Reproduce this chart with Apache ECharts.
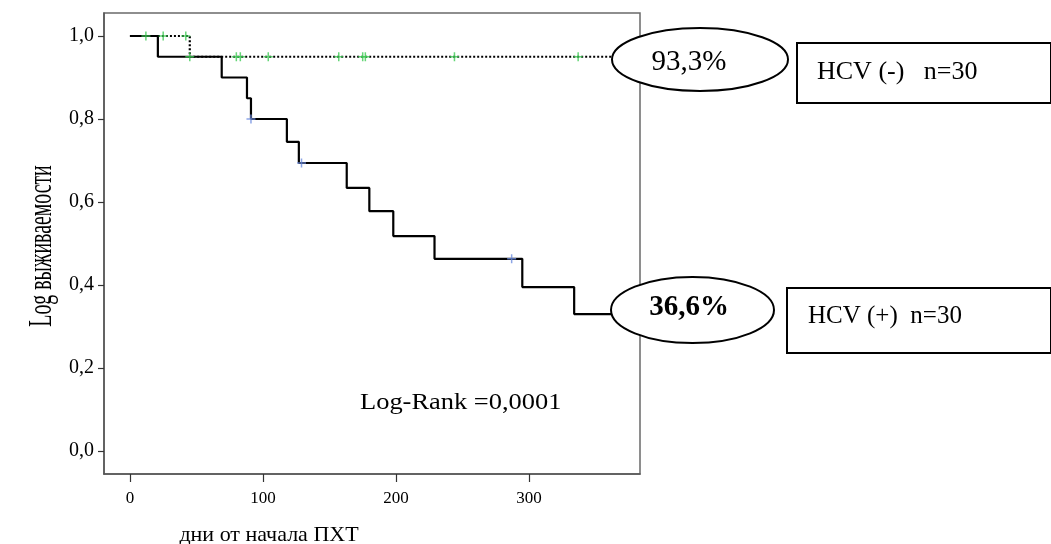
<!DOCTYPE html>
<html>
<head>
<meta charset="utf-8">
<script src="https://cdn.jsdelivr.net/npm/echarts@6/dist/echarts.min.js"></script>
<style>
html,body{margin:0;padding:0;background:#fff;}
#chart{width:1051px;height:544px;}
</style>
</head>
<body>
<div id="chart"></div>
<script>
// ---- data ----
const hcvPosCurve = [[0,1],[21,0.95],[69,0.90],[88,0.85],[91,0.80],[118,0.745],[127,0.694],[163,0.634],[180,0.578],[198,0.518],[229,0.463],[295,0.395],[334,0.330],[362,0.330]];
const hcvPosCensored = [[91,0.80],[129,0.694],[287,0.463]];
const hcvNegCurve = [[0,1],[45,0.95],[362,0.95]];
const hcvNegCensored = [[12,1],[25,1],[42,1],[45,0.95],[80,0.95],[83,0.95],[104,0.95],[157,0.95],[175,0.95],[177,0.95],[244,0.95],[337,0.95]];
const xTickValues = [0,100,200,300];
const yTickValues = [0,0.2,0.4,0.6,0.8,1.0];
const labelNeg = '93,3%';
const labelPos = '36,6%';
const boxNeg = 'HCV (-)   n=30';
const boxPos = 'HCV (+)  n=30';
const logRankText = 'Log-Rank =0,0001';
const yTitle = 'Log выживаемости';
const xTitle = 'дни от начала ПХТ';

const SERIF = "'Liberation Serif','Times New Roman','DejaVu Serif',serif";
const cross = 'path://M5,0h2v5h5v2h-5v5h-2v-5h-5v-2h5z';

const chart = echarts.init(document.getElementById('chart'), null, {renderer:'canvas'});
chart.setOption({
  backgroundColor:'#fff',
  animation:false,
  grid:{left:104, top:13, right:411, bottom:70, show:true, borderColor:'#6a6a6a', borderWidth:1.5, containLabel:false},
  xAxis:{
    type:'value', min:-19.5, max:383.5,
    axisLine:{show:true, onZero:false, lineStyle:{color:'#555', width:1.5}},
    axisTick:{show:true, length:8, customValues:xTickValues, lineStyle:{color:'#333', width:1.2}},
    axisLabel:{customValues:xTickValues, color:'#000', fontFamily:SERIF, fontSize:17, margin:16, formatter:v=>String(Math.round(v))},
    splitLine:{show:false}
  },
  yAxis:{
    type:'value', min:-0.0554, max:1.0554,
    axisLine:{show:true, onZero:false, lineStyle:{color:'#555', width:1.5}},
    axisTick:{show:true, length:6, customValues:yTickValues, lineStyle:{color:'#333', width:1.2}},
    axisLabel:{customValues:yTickValues, color:'#000', fontFamily:SERIF, fontSize:20, margin:10, formatter:v=>v.toFixed(1).replace('.',',')},
    splitLine:{show:false}
  },
  series:[
    {type:'line', name:'HCV (-)', data:hcvNegCurve, step:'end', symbol:'none', z:3,
     lineStyle:{color:'#000', width:2.2, type:[2,2]}},
    {type:'line', name:'HCV (+)', data:hcvPosCurve, step:'end', symbol:'none', z:4,
     lineStyle:{color:'#000', width:2.2}},
    {type:'scatter', data:hcvNegCensored, symbol:cross, symbolSize:9, z:5,
     itemStyle:{color:'#3fcc55'}},
    {type:'scatter', data:hcvPosCensored, symbol:cross, symbolSize:9, z:5,
     itemStyle:{color:'#6f8fe0'}}
  ],
  graphic:[
    {type:'ellipse', z:100, shape:{cx:700, cy:59.5, rx:88, ry:31.5}, style:{fill:'#fff', stroke:'#000', lineWidth:2}},
    {type:'text', z:101, x:689, y:62, style:{text:labelNeg, font:"29px "+SERIF, fill:'#000', align:'center', verticalAlign:'middle'}},
    {type:'ellipse', z:100, shape:{cx:692.5, cy:310, rx:81.5, ry:33}, style:{fill:'#fff', stroke:'#000', lineWidth:2}},
    {type:'text', z:101, x:689, y:308, style:{text:labelPos, font:"bold 29px "+SERIF, fill:'#000', align:'center', verticalAlign:'middle'}},
    {type:'rect', z:100, shape:{x:797, y:43, width:254, height:60}, style:{fill:'#fff', stroke:'#000', lineWidth:2}},
    {type:'text', z:101, x:817, y:72, style:{text:boxNeg, font:"26px "+SERIF, fill:'#000', align:'left', verticalAlign:'middle'}},
    {type:'rect', z:100, shape:{x:787, y:288, width:264, height:65}, style:{fill:'#fff', stroke:'#000', lineWidth:2}},
    {type:'text', z:101, x:808, y:316, style:{text:boxPos, font:"25px "+SERIF, fill:'#000', align:'left', verticalAlign:'middle'}},
    {type:'text', z:101, x:360, y:403, scaleX:1.15, style:{text:logRankText, font:"23px "+SERIF, fill:'#000', align:'left', verticalAlign:'middle'}},
    {type:'text', z:101, x:42, y:246, rotation:Math.PI/2, scaleX:0.6, style:{text:yTitle, font:"33px "+SERIF, fill:'#000', align:'center', verticalAlign:'middle'}},
    {type:'text', z:101, x:269, y:535, style:{text:xTitle, font:"22px "+SERIF, fill:'#000', align:'center', verticalAlign:'middle'}}
  ]
});
</script>
</body>
</html>
